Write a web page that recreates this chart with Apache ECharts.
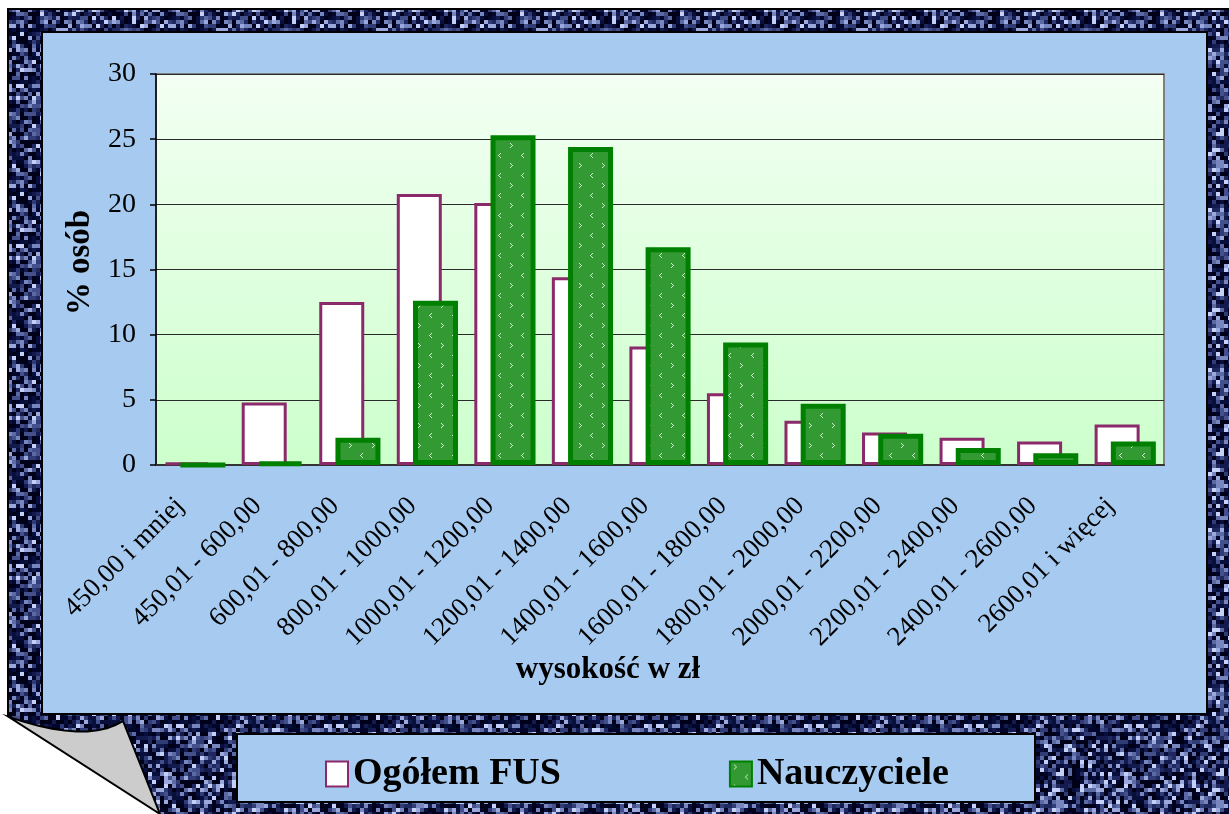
<!DOCTYPE html>
<html>
<head>
    <meta charset="utf-8">
    <title>ECharts</title>
    <script src="https://cdn.jsdelivr.net/npm/echarts@6/dist/echarts.min.js"></script>
    <style>
        html, body, #main {
            width: 100%;
            height: 100%;
            margin: 0;
            background: #fff;
        }
    </style>
</head>
<body>
    <div id="main"></div>
    <script type="text/javascript">
        // dane
        var kategorie = ['450,00 i mniej', '450,01 - 600,00', '600,01 - 800,00', '800,01 - 1000,00',
            '1000,01 - 1200,00', '1200,01 - 1400,00', '1400,01 - 1600,00', '1600,01 - 1800,00',
            '1800,01 - 2000,00', '2000,01 - 2200,00', '2200,01 - 2400,00', '2400,01 - 2600,00',
            '2600,01 i więcej'];
        var ogolemFUS = [0.2, 4.8, 12.5, 20.8, 20.1, 14.4, 9.1, 5.5, 3.4, 2.5, 2.1, 1.8, 3.1];
        var nauczyciele = [0, 0.2, 2.1, 12.6, 25.3, 24.4, 16.7, 9.4, 4.7, 2.4, 1.3, 0.9, 1.8];
        var yTicks = [0, 5, 10, 15, 20, 25, 30];

        var serif = '"Liberation Serif", "Times New Roman", serif';

        // tekstura ramki (deterministyczna)
        function frameTile() {
            var c = document.createElement('canvas');
            c.width = 160; c.height = 160;
            var ctx = c.getContext('2d');
            var pal = ['#000018', '#02062a', '#080f3c', '#121a4e', '#1f2960', '#303c76',
                '#44508c', '#5c6aa4', '#7886c0', '#9aa8dc', '#c4d0f8'];
            for (var i = 0; i < 40; i++) {
                for (var j = 0; j < 40; j++) {
                    var h = (i * 374761393 + j * 668265263) | 0;
                    h = Math.imul(h ^ (h >>> 13), 1274126177);
                    h = (h ^ (h >>> 16)) >>> 0;
                    var r = (h % 1000) / 1000;
                    var k = Math.floor(Math.pow(r, 1.6) * pal.length);
                    ctx.fillStyle = pal[Math.min(k, pal.length - 1)];
                    ctx.fillRect(i * 4, j * 4, 4, 4);
                }
            }
            return c;
        }

        // wzór słupków "Nauczyciele"
        function greenTile() {
            var c = document.createElement('canvas');
            c.width = 23; c.height = 20;
            var ctx = c.getContext('2d');
            ctx.fillStyle = '#339933';
            ctx.fillRect(0, 0, 23, 20);
            ctx.fillStyle = '#d2ecd2';
            var gt = [[0, 0], [1, 1], [2, 2], [1, 3], [0, 4]];
            var lt = [[2, 0], [1, 1], [0, 2], [1, 3], [2, 4]];
            gt.forEach(function (p) { ctx.fillRect(4 + p[0], 3 + p[1], 1, 1); });
            lt.forEach(function (p) { ctx.fillRect(15 + p[0], 13 + p[1], 1, 1); });
            return c;
        }

        // zawinięty róg (krzywa kwadratowa)
        var curl = [];
        for (var t = 0; t <= 1.0001; t += 0.1) {
            var u = 1 - t;
            curl.push([u * u * 9 + 2 * u * t * 87 + t * t * 123, u * u * 717 + 2 * u * t * 744 + t * t * 721]);
        }
        curl.push([160, 814]);

        var myChart = echarts.init(document.getElementById('main'));

        var option = {
            backgroundColor: { image: frameTile(), repeat: 'repeat' },
            animation: false,
            graphic: [
                { type: 'rect', z: -1, shape: { x: 0, y: 0, width: 1229, height: 9 }, style: { fill: '#fff' } },
                { type: 'rect', z: -1, shape: { x: 0, y: 0, width: 8, height: 814 }, style: { fill: '#fff' } },
                { type: 'polyline', z: -1, shape: { points: [[8, 717], [8, 9], [1230, 9]] }, style: { stroke: '#000', lineWidth: 2, fill: null } },
                { type: 'polygon', z: -1, shape: { points: [[0, 716], [9, 716], [161, 815], [0, 815]] }, style: { fill: '#fff' } },
                { type: 'polygon', z: -1, shape: { points: curl }, style: { fill: '#cccccc', stroke: '#000', lineWidth: 2 } },
                { type: 'rect', z: -1, shape: { x: 42, y: 32, width: 1165, height: 682 }, style: { fill: '#a6caf0', stroke: '#000', lineWidth: 2 } },
                { type: 'rect', z: -1, shape: { x: 237, y: 734, width: 798, height: 68 }, style: { fill: '#a6caf0', stroke: '#000', lineWidth: 2 } }
            ],
            grid: {
                left: 156,
                top: 74,
                width: 1008,
                height: 391,
                show: true,
                backgroundColor: {
                    type: 'linear', x: 0, y: 0, x2: 0, y2: 1,
                    colorStops: [{ offset: 0, color: '#f3fff3' }, { offset: 1, color: '#ccffcc' }]
                },
                borderColor: '#808080',
                borderWidth: 2
            },
            legend: {
                left: 325,
                top: 755,
                padding: 0,
                icon: 'rect',
                itemWidth: 22,
                itemHeight: 25,
                itemGap: 168,
                textStyle: { fontFamily: serif, fontSize: 38, fontWeight: 'bold', color: '#000' },
                data: ['Ogółem FUS', 'Nauczyciele']
            },
            xAxis: {
                type: 'category',
                data: kategorie,
                name: 'wysokość w zł',
                nameLocation: 'middle',
                nameGap: 188,
                nameTextStyle: { fontFamily: serif, fontSize: 31, fontWeight: 'bold', color: '#000', padding: [0, 104, 0, 0] },
                axisLine: { lineStyle: { color: '#333', width: 2 } },
                axisTick: { length: 7, lineStyle: { color: '#000', width: 1.5 } },
                axisLabel: {
                    rotate: 45, margin: 22, padding: [0, 21, 0, 0],
                    fontFamily: serif, fontSize: 27, color: '#000', interval: 0
                }
            },
            yAxis: {
                type: 'value',
                min: 0,
                max: 30,
                interval: 5,
                name: '% osób',
                nameLocation: 'middle',
                nameGap: 49,
                nameTextStyle: { fontFamily: serif, fontSize: 33, fontWeight: 'bold', color: '#000', padding: [0, 0, 0, 14] },
                axisLine: { show: true, lineStyle: { color: '#000', width: 1.5 } },
                axisTick: { show: true, length: 6, lineStyle: { color: '#000', width: 1.5 } },
                axisLabel: {
                    margin: 20, fontFamily: serif, fontSize: 28, color: '#000',
                    formatter: function (v) { return yTicks.indexOf(v) >= 0 ? String(v) : ''; }
                },
                splitLine: { lineStyle: { color: '#2a2a2a', width: 1.2 } }
            },
            series: [
                {
                    name: 'Ogółem FUS',
                    type: 'bar',
                    data: ogolemFUS,
                    barWidth: 45,
                    barGap: '-64%',
                    itemStyle: { color: '#fff', borderColor: '#8b2a6a', borderWidth: 3 }
                },
                {
                    name: 'Nauczyciele',
                    type: 'bar',
                    data: nauczyciele,
                    barWidth: 45,
                    itemStyle: { color: { image: greenTile(), repeat: 'repeat' }, borderColor: '#008000', borderWidth: 5 }
                }
            ]
        };

        myChart.setOption(option);
        window.onresize = myChart.resize;
    </script>
</body>
</html>
